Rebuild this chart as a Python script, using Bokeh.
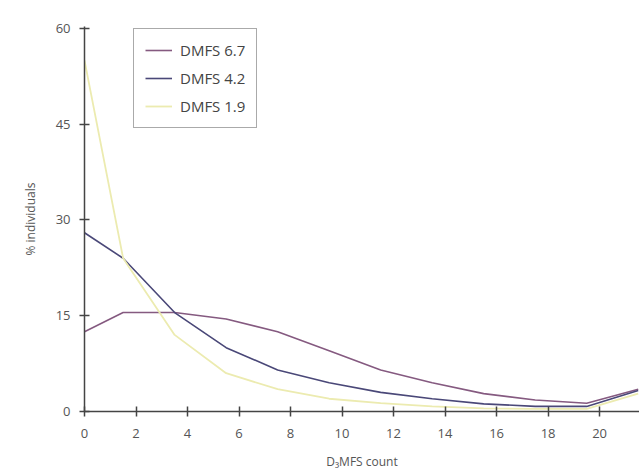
from bokeh.plotting import figure
from bokeh.models import Range1d, FixedTicker, Legend, LegendItem
from bokeh.embed import file_html
from bokeh.resources import INLINE

x_vals = [0, 1.5, 3.5, 5.5, 7.5, 9.5, 11.5, 13.5, 15.5, 17.5, 19.5, 21.5]
dmfs_67 = [12.5, 15.5, 15.5, 14.5, 12.5, 9.5, 6.5, 4.5, 2.8, 1.8, 1.3, 3.5]
dmfs_42 = [28.0, 24.0, 15.5, 10.0, 6.5, 4.5, 3.0, 2.0, 1.2, 0.8, 0.8, 3.3]
dmfs_19 = [55.0, 24.0, 12.0, 6.0, 3.5, 2.0, 1.3, 0.8, 0.5, 0.4, 0.4, 2.8]
series_names = ["DMFS 6.7", "DMFS 4.2", "DMFS 1.9"]
x_ticks = [0, 2, 4, 6, 8, 10, 12, 14, 16, 18, 20]
y_ticks = [0, 15, 30, 45, 60]

FONT = "Open Sans"

p = figure(width=639, height=472, output_backend="svg", toolbar_location=None,
           x_range=Range1d(0, 21.55), y_range=Range1d(0, 60.3),
           min_border_left=84, min_border_right=0, min_border_top=26, min_border_bottom=61)
p.outline_line_color = None
p.xgrid.grid_line_color = None
p.ygrid.grid_line_color = None

colors = ["#855a80", "#4a4878", "#ecebb0"]
widths = [1.6, 1.6, 1.8]
renderers = []
for ys, c, w in zip([dmfs_67, dmfs_42, dmfs_19], colors, widths):
    r = p.line(x_vals, ys, line_color=c, line_width=w)
    renderers.append(r)

for ax in (p.xaxis[0], p.yaxis[0]):
    ax.axis_line_color = "#444444"
    ax.axis_line_width = 1.5
    ax.major_tick_line_color = "#444444"
    ax.major_tick_line_width = 1.5
    ax.major_tick_in = 5
    ax.major_tick_out = 5
    ax.minor_tick_line_color = None
    ax.major_label_text_font = FONT
    ax.major_label_text_font_size = "13px"
    ax.major_label_text_color = "#555555"
    ax.axis_label_text_font = FONT
    ax.axis_label_text_font_size = "12px"
    ax.axis_label_text_font_style = "normal"
    ax.axis_label_text_color = "#555555"

p.xaxis[0].ticker = FixedTicker(ticks=x_ticks)
p.yaxis[0].ticker = FixedTicker(ticks=y_ticks)
p.xaxis[0].axis_label = "D\u2083MFS count"
p.yaxis[0].axis_label = "% individuals"
p.xaxis[0].major_label_standoff = 12
p.yaxis[0].major_label_standoff = 9
p.yaxis[0].axis_label_standoff = 14
p.xaxis[0].axis_label_standoff = 12

legend = Legend(items=[LegendItem(label=n, renderers=[r]) for n, r in zip(series_names, renderers)],
                location=(49, 283), orientation="vertical")
legend.margin = 0
legend.label_text_font = FONT
legend.label_text_font_size = "15px"
legend.label_text_color = "#444444"
legend.border_line_color = "#555555"
legend.border_line_width = 1.5
legend.background_fill_alpha = 1
legend.glyph_width = 27
legend.spacing = 8
legend.padding = 11
legend.label_standoff = 8
p.add_layout(legend)

open("out.html", "w").write(file_html(p, INLINE))
